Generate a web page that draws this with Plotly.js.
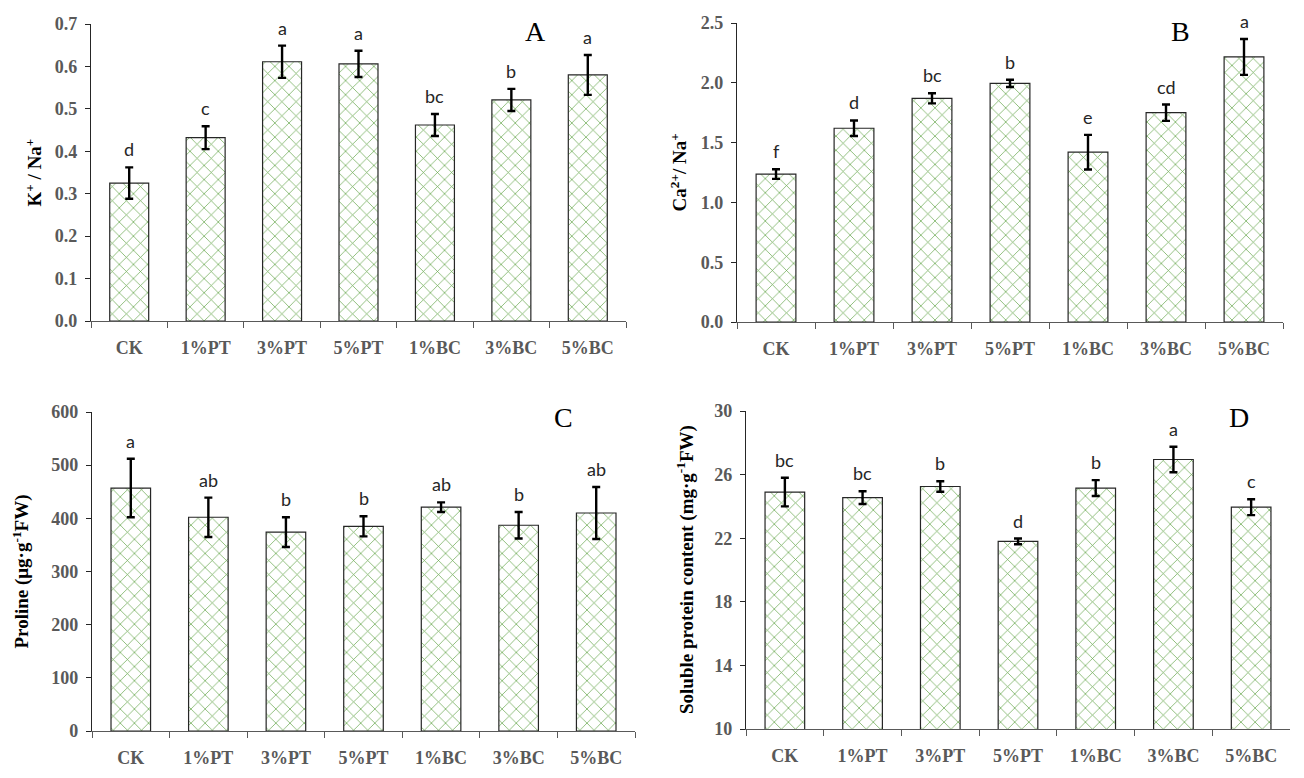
<!DOCTYPE html>
<html>
<head>
<meta charset="utf-8">
<script src="https://cdn.plot.ly/plotly-3.0.1.min.js"></script>
<style>html,body{margin:0;padding:0;background:#fff;}#chart{width:1304px;height:778px;}</style>
</head>
<body>
<div id="chart"></div>
<script>
const categories = ['CK','1%PT','3%PT','5%PT','1%BC','3%BC','5%BC'];

const kNaValues  = [0.325, 0.432, 0.611, 0.606, 0.462, 0.521, 0.580];
const kNaErrors  = [0.037, 0.027, 0.038, 0.031, 0.026, 0.026, 0.047];
const kNaLetters = ['d','c','a','a','bc','b','a'];

const caNaValues  = [1.237, 1.620, 1.870, 1.995, 1.420, 1.750, 2.216];
const caNaErrors  = [0.040, 0.065, 0.042, 0.030, 0.145, 0.068, 0.150];
const caNaLetters = ['f','d','bc','b','e','cd','a'];

const prolineValues  = [457, 402, 374, 385, 421, 387, 410];
const prolineErrors  = [55, 37, 28, 19, 9, 25, 49];
const prolineLetters = ['a','ab','b','b','ab','b','ab'];

const proteinValues  = [24.9, 24.55, 25.25, 21.8, 25.15, 26.95, 23.95];
const proteinErrors  = [0.9, 0.4, 0.33, 0.18, 0.5, 0.8, 0.5];
const proteinLetters = ['bc','bc','b','d','b','a','c'];

const panelLabels = ['A','B','C','D'];
const yTitles = [
  'K<sup>+</sup> / Na<sup>+</sup>',
  'Ca<sup>2+</sup>/ Na<sup>+</sup>',
  'Proline (μg·g<sup>-1</sup>FW)',
  'Soluble protein content (mg·g<sup>-1</sup>FW)'
];

const W = 1304, H = 778;
const px = (a, b) => [a / W, b / W];
const py = (top, bottom) => [(H - bottom) / H, (H - top) / H];

const panels = [
  {v: kNaValues, e: kNaErrors, l: kNaLetters, xd: px(91, 626), yd: py(24, 321), range: [0, 0.7], dtick: 0.1, fmt: '.1f', lab: [535, 32], tx: 33},
  {v: caNaValues, e: caNaErrors, l: caNaLetters, xd: px(737, 1283), yd: py(23, 322), range: [0, 2.5], dtick: 0.5, fmt: '.1f', lab: [1180, 32], tx: 678},
  {v: prolineValues, e: prolineErrors, l: prolineLetters, xd: px(92, 635), yd: py(412, 731), range: [0, 600], dtick: 100, fmt: 'd', lab: [563, 417], tx: 21},
  {v: proteinValues, e: proteinErrors, l: proteinLetters, xd: px(746, 1290), yd: py(411, 729), range: [10, 30], dtick: 4, fmt: 'd', lab: [1239, 417], tx: 685}
];

const tickFont = {family: 'Liberation Serif, Times New Roman, serif', size: 18, color: '#595959', weight: 'bold'};
const letterFont = {family: 'Lato, Liberation Sans, sans-serif', size: 18, color: '#262626'};

const data = [];
const layout = {
  width: W, height: H,
  margin: {l: 0, r: 0, t: 0, b: 0},
  paper_bgcolor: '#fff', plot_bgcolor: 'rgba(0,0,0,0)',
  showlegend: false,
  bargap: 0.49,
  annotations: []
};

panels.forEach((p, i) => {
  const n = i + 1;
  const xa = n === 1 ? 'x' : 'x' + n;
  const ya = n === 1 ? 'y' : 'y' + n;
  data.push({
    type: 'bar', x: categories, y: p.v, xaxis: xa, yaxis: ya,
    marker: {
      color: '#ffffff',
      line: {color: '#262626', width: 1.2},
      pattern: {shape: 'x', fgcolor: '#6aa84f', bgcolor: '#ffffff', size: 10, solidity: 0.14}
    },
    error_y: {type: 'data', array: p.e, visible: true, color: '#000', thickness: 2.4, width: 4},
    hoverinfo: 'skip'
  });
  layout['xaxis' + (n === 1 ? '' : n)] = {
    domain: p.xd, anchor: ya, type: 'category',
    showline: true, linecolor: '#595959', linewidth: 1.2,
    ticks: 'outside', tickson: 'boundaries', ticklen: 6, tickcolor: '#595959',
    ticklabelstandoff: 10,
    tickfont: tickFont, showgrid: false, zeroline: false, fixedrange: true
  };
  layout['yaxis' + (n === 1 ? '' : n)] = {
    domain: p.yd, anchor: xa, range: p.range, dtick: p.dtick, tick0: p.range[0], tickformat: p.fmt,
    showline: true, linecolor: '#262626', linewidth: 1.2,
    ticks: 'outside', ticklen: 5, tickcolor: '#262626',
    ticklabelstandoff: 4,
    tickfont: tickFont, showgrid: false, zeroline: false, fixedrange: true
  };
  const yc = (p.yd[0] + p.yd[1]) / 2;
  layout.annotations.push({
    xref: 'paper', yref: 'paper', x: p.tx / W, y: yc, xanchor: 'center', yanchor: 'middle',
    text: yTitles[i], textangle: -90, showarrow: false,
    font: {family: 'Liberation Serif, Times New Roman, serif', size: 19, color: '#000', weight: 'bold'}
  });
  layout.annotations.push({
    xref: 'paper', yref: 'paper', x: p.lab[0] / W, y: (H - p.lab[1]) / H, xanchor: 'center', yanchor: 'middle',
    text: panelLabels[i], showarrow: false,
    font: {family: 'Liberation Serif, Times New Roman, serif', size: 28, color: '#000'}
  });
  categories.forEach((c, j) => {
    layout.annotations.push({
      xref: xa, yref: ya, x: c, y: p.v[j] + p.e[j], xanchor: 'center', yanchor: 'bottom', yshift: 5,
      text: p.l[j], showarrow: false, font: letterFont
    });
  });
});

Plotly.newPlot('chart', data, layout, {staticPlot: true, displayModeBar: false});
</script>
</body>
</html>
